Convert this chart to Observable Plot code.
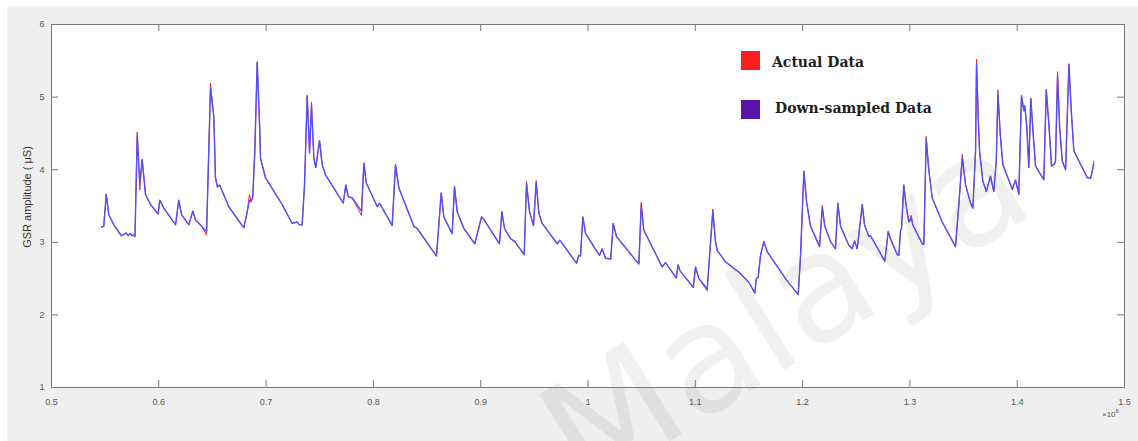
<!DOCTYPE html>
<html><head><meta charset="utf-8">
<script src="https://cdn.jsdelivr.net/npm/d3@7"></script>
<script src="https://cdn.jsdelivr.net/npm/@observablehq/plot@0.6"></script>
<style>
html,body{margin:0;padding:0;background:#fff;}
#wrap{position:relative;width:1138px;height:441px;overflow:hidden;}
#bg{position:absolute;left:7px;top:6px;right:0;bottom:0;background:#efefef;}
#chart{position:absolute;left:0;top:0;}
.sw{position:absolute;width:19px;height:19px;}
.lt{position:absolute;font-family:"DejaVu Serif",serif;font-weight:bold;font-size:14px;color:#1e1e1e;white-space:nowrap;line-height:1;}
#ylab{position:absolute;left:27px;top:197px;transform:translate(-50%,-50%) rotate(-90deg);font-family:"Liberation Sans",Arial,sans-serif;font-size:11px;color:#333;white-space:nowrap;}
#xexp{position:absolute;left:1102px;top:408px;font-family:"Liberation Sans",Arial,sans-serif;font-size:8px;color:#555;}
</style></head><body>
<div id="wrap"><div id="bg"></div><div id="chart"></div>
<div id="ylab">GSR amplitude ( μS)</div>
<div id="xexp">×10<sup style="font-size:6px">6</sup></div>
<div id="legend"></div>
</div>
<script>
const xs = [546600,548700,551000,553400,558100,565200,569600,571500,573300,575200,577100,577800,579900,582300,584500,587600,592300,599400,600900,604700,
615600,618600,621200,628000,631700,634200,640500,644500,648200,651300,652800,654700,656600,658400,665200,679200,682400,684500,686100,687600,
689500,691700,693900,694800,699400,715000,724300,729000,731100,733600,735800,738300,740500,742300,744500,746300,749800,752300,755400,771900,
774300,776500,780300,788900,791100,793300,803600,805700,817500,820600,823700,837700,840800,858800,863200,865600,873400,875600,878100,884300,
894500,900800,902300,917500,919700,922200,927800,931800,940500,942700,945500,949200,951700,954200,957300,971300,973700,989300,991400,993000,
995200,997700,1010700,1013200,1016300,1021200,1023500,1026500,1047400,1049600,1052000,1069100,1072200,1082200,1084000,1085600,1098100,1100200,1103300,1111100,
1116300,1118800,1120400,1128100,1140500,1149900,1155500,1156800,1158600,1160800,1163900,1167000,1184100,1195900,1198100,1201200,1203700,1207400,1215800,1218300,
1220700,1226000,1230700,1232800,1235400,1243100,1246200,1248400,1250900,1255600,1257700,1261700,1263300,1276600,1279800,1281900,1288200,1289700,1291300,1292200,
1294300,1296600,1299000,1301300,1302700,1311500,1313000,1315200,1317600,1320800,1330100,1342500,1345600,1348800,1351900,1356500,1358700,1361200,1362100,1363700,
1364900,1368000,1371200,1375100,1378200,1380500,1382000,1384200,1386600,1395400,1398400,1401500,1404000,1406200,1407100,1409000,1410800,1412700,1414900,1417100,
1424800,1427100,1429500,1432000,1434800,1435700,1437600,1439500,1442000,1445100,1448200,1450400,1452800,1457500,1465300,1468400,1470000,1471400];

const downY = [3.21,3.22,3.66,3.38,3.24,3.09,3.13,3.09,3.12,3.09,3.10,3.08,4.47,3.82,4.14,3.66,3.52,3.39,3.58,3.47,
3.24,3.58,3.38,3.24,3.43,3.31,3.21,3.15,5.12,4.72,3.89,3.76,3.79,3.73,3.49,3.20,3.42,3.58,3.56,3.63,
4.26,5.48,4.63,4.16,3.89,3.52,3.26,3.28,3.24,3.24,3.79,5.02,4.23,4.88,4.16,4.03,4.40,4.07,3.93,3.54,
3.79,3.63,3.61,3.43,4.09,3.82,3.49,3.54,3.23,4.07,3.75,3.22,3.19,2.81,3.68,3.35,3.12,3.77,3.42,3.19,
2.98,3.35,3.33,2.98,3.42,3.19,3.05,3.01,2.83,3.81,3.42,3.23,3.82,3.40,3.26,2.98,3.03,2.71,2.82,2.81,
3.35,3.12,2.82,2.91,2.78,2.77,3.26,3.08,2.70,3.51,3.17,2.66,2.72,2.51,2.69,2.61,2.38,2.66,2.50,2.36,
3.42,3.01,2.89,2.73,2.59,2.45,2.30,2.50,2.52,2.82,3.01,2.87,2.50,2.28,2.82,3.98,3.56,3.22,2.94,3.47,
3.22,3.01,2.91,3.54,3.22,2.96,2.91,3.02,2.91,3.52,3.24,3.08,3.09,2.74,3.15,3.05,2.83,2.82,3.17,3.19,
3.79,3.49,3.28,3.33,3.24,2.98,2.97,4.42,4.00,3.61,3.28,2.94,3.52,4.16,3.79,3.54,3.47,4.26,5.46,4.72,
4.26,3.84,3.70,3.91,3.70,4.12,5.04,4.49,4.07,3.73,3.86,3.66,5.02,4.81,4.88,4.58,4.03,4.98,4.49,4.05,
3.86,5.09,4.63,4.05,4.08,4.12,5.30,4.58,4.12,4.00,5.44,4.81,4.26,4.12,3.89,3.88,3.98,4.07];

const actualY = [3.21,3.22,3.66,3.38,3.24,3.09,3.13,3.09,3.12,3.09,3.10,3.08,4.52,3.72,4.14,3.66,3.52,3.39,3.58,3.47,
3.24,3.58,3.38,3.24,3.43,3.31,3.21,3.10,5.19,4.72,3.89,3.76,3.79,3.73,3.49,3.20,3.42,3.66,3.56,3.63,
4.26,5.48,4.63,4.16,3.89,3.52,3.26,3.28,3.24,3.24,3.79,5.02,4.23,4.93,4.16,4.03,4.40,4.07,3.93,3.54,
3.79,3.63,3.61,3.37,4.09,3.82,3.49,3.54,3.23,4.07,3.75,3.22,3.19,2.81,3.68,3.35,3.12,3.77,3.42,3.19,
2.98,3.35,3.33,2.98,3.42,3.19,3.05,3.01,2.83,3.84,3.42,3.23,3.85,3.40,3.26,2.98,3.03,2.71,2.82,2.81,
3.35,3.12,2.82,2.91,2.78,2.77,3.26,3.08,2.70,3.55,3.17,2.66,2.72,2.51,2.69,2.61,2.38,2.66,2.50,2.33,
3.46,3.01,2.89,2.73,2.59,2.45,2.30,2.50,2.52,2.82,3.01,2.87,2.50,2.28,2.82,3.98,3.56,3.22,2.94,3.51,
3.22,3.01,2.91,3.54,3.22,2.96,2.91,3.02,2.91,3.52,3.24,3.08,3.09,2.74,3.15,3.05,2.83,2.82,3.17,3.19,
3.79,3.49,3.28,3.37,3.24,2.98,2.97,4.46,4.00,3.61,3.28,2.94,3.52,4.21,3.79,3.54,3.47,4.26,5.52,4.72,
4.26,3.84,3.70,3.91,3.70,4.12,5.10,4.49,4.07,3.73,3.86,3.66,5.02,4.81,4.88,4.58,4.03,4.98,4.49,4.05,
3.86,5.11,4.63,4.05,4.08,4.12,5.35,4.63,4.12,4.00,5.46,4.81,4.26,4.12,3.89,3.88,3.98,4.12];

const xTicks = [500000,600000,700000,800000,900000,1000000,1100000,1200000,1300000,1400000,1500000];
const yTicks = [1,2,3,4,5,6];
const seriesNames = ["Actual Data","Down-sampled Data"];
const seriesColors = ["#ff1c1c","#5b12a8"];
const lineColors = ["#ff2020","#5050ff"];
const watermark = "Malaya";

const actual = xs.map((x,i)=>({x, y: actualY[i]}));
const down = xs.map((x,i)=>({x, y: downY[i]}));

const svg = Plot.plot({
  width:1138, height:441,
  marginLeft:51, marginRight:14, marginTop:24, marginBottom:54,
  style:{background:"transparent", fontFamily:"'Liberation Sans',Arial,sans-serif", fontSize:"9px", color:"#555", overflow:"visible"},
  x:{domain:[500000,1500000]},
  y:{domain:[1,6]},
  marks:[
    Plot.frame({fill:"white", stroke:"none"}),
    Plot.lineY(actual, {x:"x", y:"y", stroke:lineColors[0], strokeWidth:1.0}),
    Plot.lineY(down, {x:"x", y:"y", stroke:lineColors[1], strokeWidth:1.4}),
    Plot.tickX(xTicks, {x:d=>d, stroke:"#777", insetTop:356}),
    Plot.tickX(xTicks, {x:d=>d, stroke:"#777", insetBottom:356}),
    Plot.tickY(yTicks, {y:d=>d, stroke:"#777", insetRight:1066}),
    Plot.tickY(yTicks, {y:d=>d, stroke:"#777", insetLeft:1066}),
    Plot.frame({stroke:"#777"}),
    Plot.axisX(xTicks, {tickSize:0, tickPadding:11, tickFormat:d=>String(+(d/1e6).toFixed(1)), label:null}),
    Plot.axisY(yTicks, {tickSize:0, tickPadding:7, tickFormat:d=>String(d), label:null})
  ]
});
document.getElementById("chart").appendChild(svg);

// watermark behind the lines
d3.select(svg).insert("text", "g[aria-label='line']")
  .attr("x", 0).attr("y", 0)
  .attr("transform", "translate(790,318) rotate(-32)")
  .attr("text-anchor", "middle")
  .attr("dominant-baseline", "middle")
  .attr("font-family", "'DejaVu Sans',sans-serif")
  .attr("font-size", 150)
  .attr("fill", "#000").attr("fill-opacity", 0.06)
  .text(watermark);

const leg = document.getElementById("legend");
const legPos = [{sq:[741,51], tx:[772,55]},{sq:[741,100], tx:[775,101]}];
seriesNames.forEach((n,i)=>{
  const s=document.createElement("div"); s.className="sw";
  s.style.left=legPos[i].sq[0]+"px"; s.style.top=legPos[i].sq[1]+"px"; s.style.background=seriesColors[i];
  const t=document.createElement("div"); t.className="lt";
  t.style.left=legPos[i].tx[0]+"px"; t.style.top=legPos[i].tx[1]+"px"; t.textContent=n;
  leg.appendChild(s); leg.appendChild(t);
});
</script>
</body></html>
